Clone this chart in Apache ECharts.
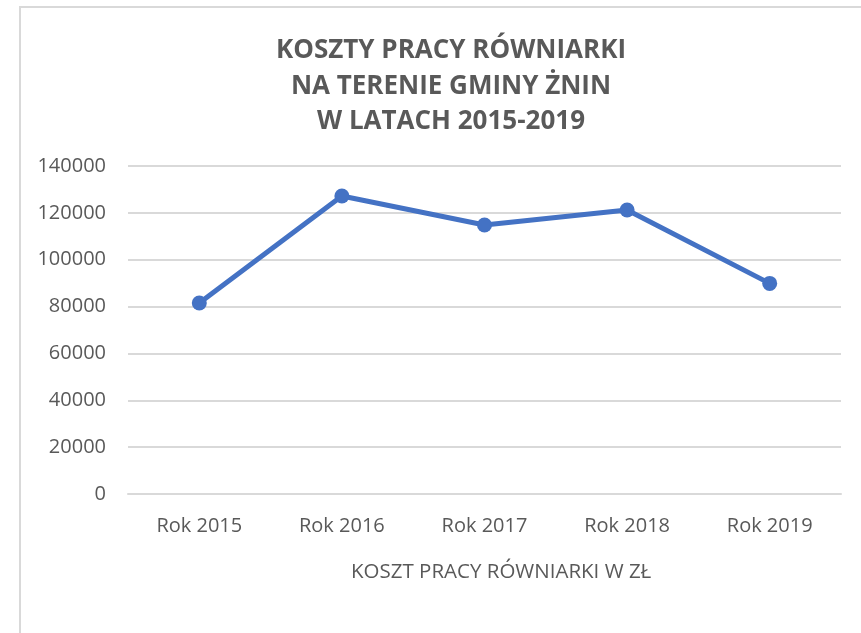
<!DOCTYPE html>
<html>
<head>
<meta charset="utf-8">
<script src="https://cdn.jsdelivr.net/npm/echarts@6/dist/echarts.min.js"></script>
<style>
  html, body { margin: 0; padding: 0; background: #fff; }
  .frame {
    position: absolute; left: 19px; top: 6px; width: 900px; height: 700px;
    border: 2px solid #d9d9d9; box-sizing: border-box;
  }
  #chart { position: absolute; left: 0; top: 0; width: 861px; height: 633px; }
</style>
</head>
<body>
<div class="frame"></div>
<div id="chart"></div>
<script>
const categories = ['Rok 2015', 'Rok 2016', 'Rok 2017', 'Rok 2018', 'Rok 2019'];
const koszty = [81500, 127200, 114800, 121200, 89900];
const seriesName = 'KOSZT PRACY RÓWNIARKI W ZŁ';
const titleLines = ['KOSZTY PRACY RÓWNIARKI', 'NA TERENIE GMINY ŻNIN', 'W LATACH 2015-2019'];

const chart = echarts.init(document.getElementById('chart'));

const options = {
  animation: false,
  textStyle: { fontFamily: 'Open Sans' },
  title: {
    text: titleLines.join('\n'),
    left: 446,
    textAlign: 'center',
    top: 28,
    textStyle: {
      fontFamily: 'Open Sans',
      fontWeight: 'bold',
      fontSize: 26,
      lineHeight: 35.5,
      color: '#595959',
    },
  },
  legend: {
    data: [seriesName],
    left: 340,
    top: 557,
    itemWidth: 0,
    itemHeight: 0,
    textStyle: { fontFamily: 'Open Sans', fontSize: 20.5, color: '#595959' },
  },
  grid: { left: 128, right: 20, top: 166, bottom: 139 },
  xAxis: {
    type: 'category',
    data: categories,
    axisLine: { show: true, lineStyle: { color: '#d9d9d9', width: 2 } },
    axisTick: { show: false },
    axisLabel: { fontSize: 20, color: '#595959', margin: 22 },
  },
  yAxis: {
    type: 'value',
    min: 0,
    max: 140000,
    interval: 20000,
    axisLine: { show: false },
    axisTick: { show: false },
    axisLabel: {
      fontSize: 20,
      color: '#595959',
      margin: 22,
      formatter(v) {
        return String(v);
      },
    },
    splitLine: { lineStyle: { color: '#d9d9d9', width: 2 } },
  },
  series: [
    {
      name: seriesName,
      type: 'line',
      data: koszty,
      symbol: 'circle',
      symbolSize: 15,
      lineStyle: { color: '#4472C4', width: 5 },
      itemStyle: { color: '#4472C4' },
    },
  ],
};
chart.setOption(options);
</script>
</body>
</html>
